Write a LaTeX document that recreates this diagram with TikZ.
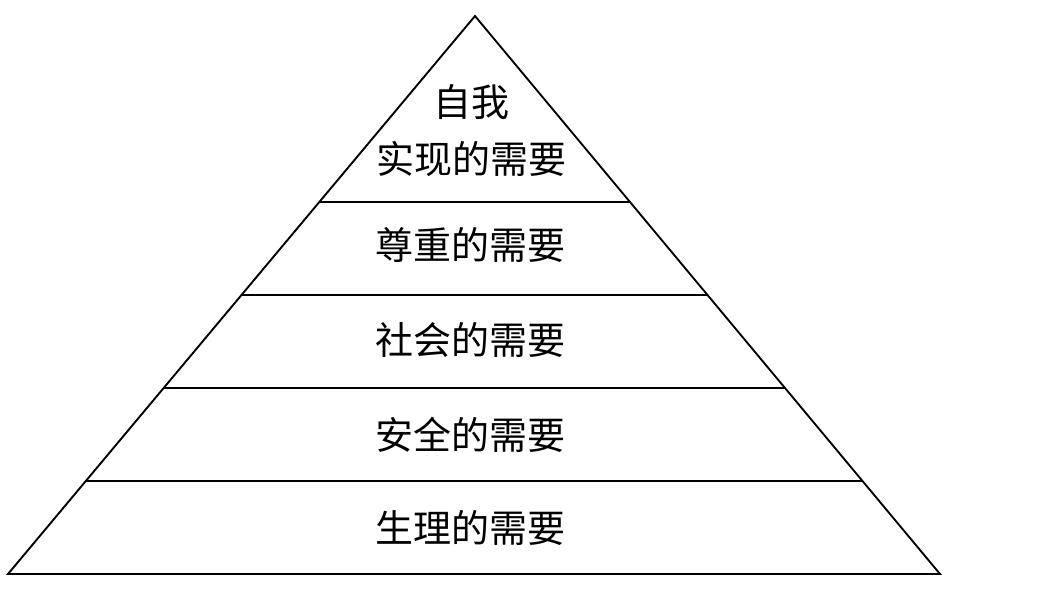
\documentclass[tikz,border=0pt]{standalone}
\usepackage{fontspec}
\setmainfont{Noto Sans CJK SC}
\usetikzlibrary{calc}
\tikzset{
  edge/.style={line width=1.9pt,draw=black},
  level/.style={font=\fontsize{38}{57}\selectfont,align=center,inner sep=0pt}
}
\begin{document}
\begin{tikzpicture}[x=1pt,y=1pt]
\useasboundingbox (0,0) rectangle (1053,590);
\coordinate (apex) at (475,574);
\coordinate (bl) at (8,16);
\coordinate (br) at (940,16);
\draw[edge,line join=miter] (apex) -- (bl) -- (br) -- cycle;
\foreach \t/\n in {2/a,3/b,4/c,5/d}{
  \coordinate (l\n) at ($(apex)!\t/6!(bl)$);
  \coordinate (r\n) at ($(apex)!\t/6!(br)$);
  \draw[edge] (l\n) -- (r\n);
}
\node[level] (self) at (471,459) {自我\\实现的需要};
\node[level] (esteem) at (470,345) {尊重的需要};
\node[level] (social) at (470,250) {社会的需要};
\node[level] (safety) at (470,155) {安全的需要};
\node[level] (body) at (470,62) {生理的需要};
\end{tikzpicture}
\end{document}
